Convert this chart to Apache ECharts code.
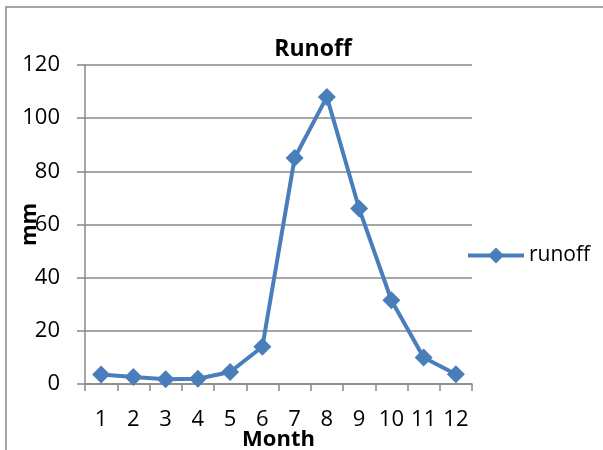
<!DOCTYPE html>
<html><head><meta charset="utf-8">
<script src="https://cdn.jsdelivr.net/npm/echarts@6/dist/echarts.min.js"></script>
<style>html,body{margin:0;padding:0;background:#fff}#c{width:603px;height:450px}</style>
</head><body><div id="c"></div>
<script>
const months = ['1','2','3','4','5','6','7','8','9','10','11','12'];
const runoff = [3.6, 2.6, 1.8, 2.0, 4.5, 14, 85, 108, 66, 31.5, 10, 3.7];
const seriesName = 'runoff';
const titleText = 'Runoff';
const xName = 'Month';
const yName = 'mm';

const chart = echarts.init(document.getElementById('c'), null, {renderer:'canvas'});
const font = '"Open Sans", "Noto Sans", sans-serif';
chart.setOption({
  animation:false,
  graphic:[{type:'rect',shape:{x:6,y:7,width:620,height:460},style:{fill:'none',stroke:'#888',lineWidth:1.5}}],
  title:{text:titleText,left:308,top:33,textAlign:'center',textStyle:{fontFamily:font,fontWeight:'bold',fontSize:23,color:'#000'}},
  legend:{data:[seriesName],left:461,top:240,itemWidth:56,itemHeight:20,
    lineStyle:{width:4},
    textStyle:{fontFamily:font,fontSize:21,color:'#000'},itemGap:4},
  grid:{left:85,right:131,top:65,bottom:66,containLabel:false,outerBoundsMode:'none'},
  xAxis:{type:'category',data:months,boundaryGap:true,name:xName,nameLocation:'middle',nameGap:45,nameMoveOverlap:false,
    nameTextStyle:{fontFamily:font,fontWeight:'bold',fontSize:22,color:'#000'},
    axisLine:{lineStyle:{color:'#888',width:1.5}},axisTick:{show:true,length:7,interval:0,lineStyle:{color:'#888',width:1.5},alignWithLabel:false},
    axisLabel:{fontFamily:font,fontSize:22,color:'#000',margin:25,interval:0,hideOverlap:false}},
  yAxis:{type:'value',min:0,max:120,interval:20,name:yName,nameLocation:'middle',nameGap:44,nameRotate:90,nameMoveOverlap:false,
    nameTextStyle:{fontFamily:font,fontWeight:'bold',fontSize:22,color:'#000'},
    axisLine:{show:true,lineStyle:{color:'#888',width:1.5}},axisTick:{show:true,length:8,lineStyle:{color:'#888',width:1.5}},
    splitLine:{lineStyle:{color:'#888',width:1.5}},
    axisLabel:{fontFamily:font,fontSize:22,color:'#000',margin:25}},
  series:[{name:seriesName,type:'line',data:runoff,symbol:'diamond',symbolSize:18,
    lineStyle:{color:'#4a7ebb',width:4},itemStyle:{color:'#4a7ebb'}}]
});
</script></body></html>
